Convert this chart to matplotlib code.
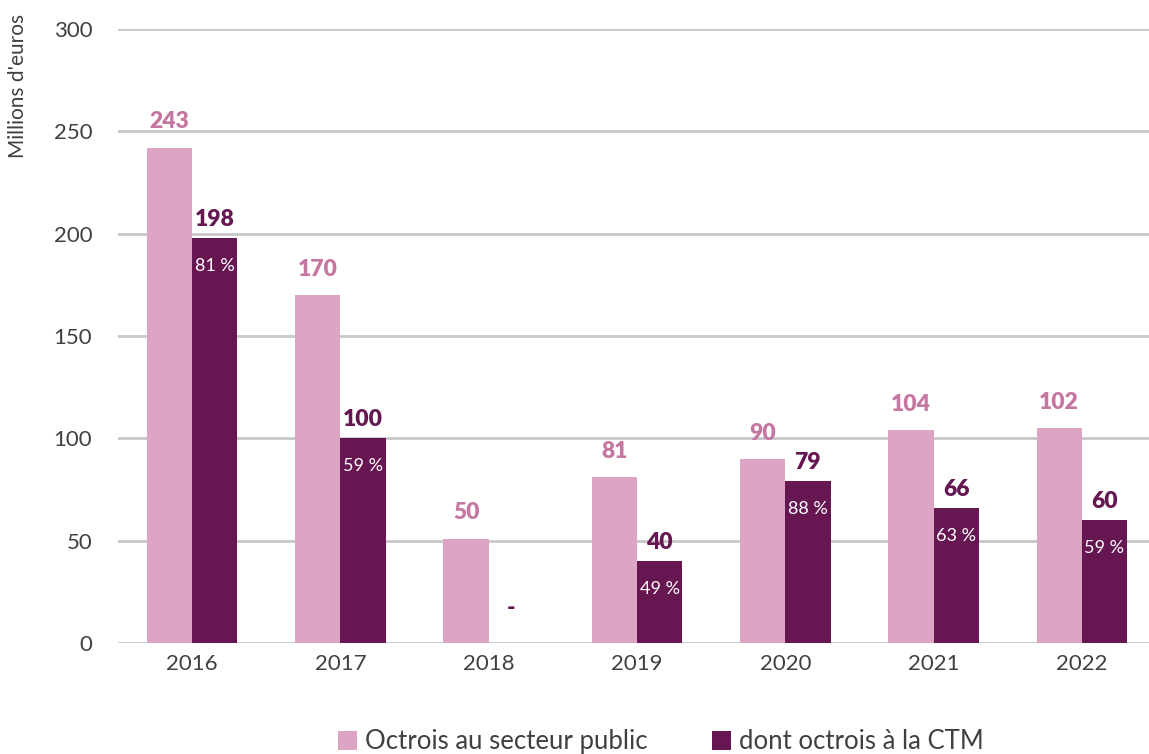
import matplotlib.pyplot as plt
import numpy as np

plt.rcParams['font.family'] = ['Lato', 'DejaVu Sans']

years = ['2016', '2017', '2018', '2019', '2020', '2021', '2022']
public_heights = [242, 170, 51, 81, 90, 104, 105]
public_labels = ['243', '170', '50', '81', '90', '104', '102']
ctm_heights = [198, 100, 0, 40, 79, 66, 60]
ctm_labels = ['198', '100', '-', '40', '79', '66', '60']
ctm_shares = ['81 %', '59 %', '', '49 %', '88 %', '63 %', '59 %']

pink = '#DDA5C4'
pink_txt = '#C577A2'
plum = '#661651'
grey_txt = '#404040'

fig = plt.figure(figsize=(11.49, 7.54), dpi=100)
ax = fig.add_axes([118 / 1149, 0.147, 1038 / 1149, 0.8145])

x = np.arange(len(years))
w = 0.305
b1 = ax.bar(x - w / 2, public_heights, w, color=pink, label='Octrois au secteur public', zorder=3)
b2 = ax.bar(x + w / 2, ctm_heights, w, color=plum, label='dont octrois à la CTM', zorder=3)

for i in range(len(years)):
    ax.annotate(public_labels[i], (x[i] - w / 2, public_heights[i]), xytext=(0, 11),
                textcoords='offset points', ha='center', va='bottom',
                color=pink_txt, fontsize=16.5, fontweight='heavy')
    if ctm_heights[i] > 0:
        ax.annotate(ctm_labels[i], (x[i] + w / 2, ctm_heights[i]), xytext=(0, 6),
                    textcoords='offset points', ha='center', va='bottom',
                    color=plum, fontsize=16.5, fontweight='heavy')
        ax.annotate(ctm_shares[i], (x[i] + w / 2, ctm_heights[i]), xytext=(0, -20),
                    textcoords='offset points', ha='center', va='center',
                    color='white', fontsize=13)
    else:
        ax.annotate(ctm_labels[i], (x[i] + w / 2, 17), ha='center', va='center',
                    color=plum, fontsize=16.5, fontweight='heavy')

ax.set_xlim(-0.5, 6.5)
ax.set_ylim(0, 300)
ax.set_yticks(range(0, 301, 50))
ax.set_xticks(x)
ax.set_xticklabels(years)
ax.tick_params(axis='both', length=0, labelsize=16, labelcolor=grey_txt)
ax.tick_params(axis='y', pad=18.5)
ax.tick_params(axis='x', pad=8)
ax.grid(axis='y', color='#C8C8C8', linewidth=2, zorder=0)
for s in ax.spines.values():
    s.set_visible(False)

fig.text(18 / 1149, 1 - 14 / 754, "Millions d'euros", rotation=90, ha='center', va='top',
         fontsize=15, color=grey_txt)

fig.legend(handles=[b1, b2], loc='center', bbox_to_anchor=(0.575, 0.016), ncol=2,
           frameon=False, fontsize=18.5, handlelength=0.75, handleheight=0.75,
           handletextpad=0.3, columnspacing=2.5, labelcolor=grey_txt)

fig.savefig('out.png', dpi=100)
